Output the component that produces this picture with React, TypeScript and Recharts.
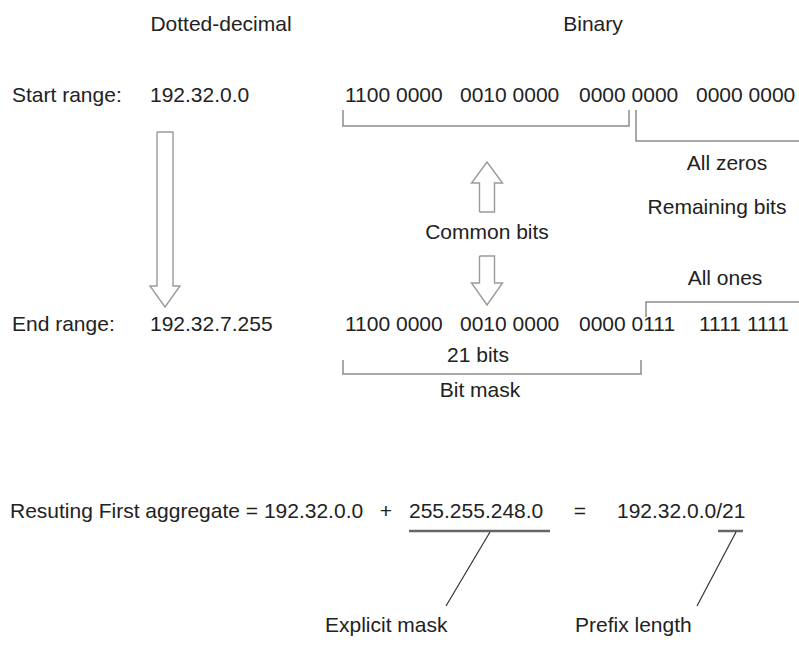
import { ScatterChart, Scatter, XAxis, YAxis } from 'recharts'

const W = 799
const H = 648

// text marks, positioned in the diagram's own coordinate space (x right, y down, baseline)
const headers = [
  { x: 221, y: 31, text: 'Dotted-decimal' },
  { x: 593, y: 31, text: 'Binary' },
]
const rowLabels = [
  { x: 12, y: 102, text: 'Start range:' },
  { x: 12, y: 331, text: 'End range:' },
]
const decimals = [
  { x: 150, y: 102, text: '192.32.0.0' },
  { x: 150, y: 331, text: '192.32.7.255' },
]
const startBits = [
  { x: 345, y: 102, text: '1100 0000' },
  { x: 460, y: 102, text: '0010 0000' },
  { x: 579, y: 102, text: '0000 0000' },
  { x: 696, y: 102, text: '0000 0000' },
]
const endBits = [
  { x: 345, y: 331, text: '1100 0000' },
  { x: 460, y: 331, text: '0010 0000' },
  { x: 579, y: 331, text: '0000 0111' },
  { x: 699, y: 331, text: '1111 1111' },
]
const notes = [
  { x: 727, y: 170, text: 'All zeros' },
  { x: 717, y: 214, text: 'Remaining bits' },
  { x: 487, y: 239, text: 'Common bits' },
  { x: 725, y: 285, text: 'All ones' },
  { x: 478, y: 362, text: '21 bits' },
  { x: 480, y: 397, text: 'Bit mask' },
]
const formula = [
  { x: 10, y: 518, text: 'Resuting First aggregate = 192.32.0.0' },
  { x: 409, y: 518, text: '255.255.248.0' },
  { x: 617, y: 518, text: '192.32.0.0/21' },
]
const operators = [
  { x: 386, y: 518, text: '+' },
  { x: 580, y: 518, text: '=' },
]
const captions = [
  { x: 325, y: 632, text: 'Explicit mask' },
  { x: 575, y: 632, text: 'Prefix length' },
]

// brackets and leader lines as polylines
const brackets = [
  [{ x: 343, y: 110 }, { x: 343, y: 126 }, { x: 629, y: 126 }, { x: 629, y: 110 }],
  [{ x: 636, y: 110 }, { x: 636, y: 141 }, { x: 799, y: 141 }],
  [{ x: 799, y: 302 }, { x: 646, y: 302 }, { x: 646, y: 317 }],
  [{ x: 343, y: 360 }, { x: 343, y: 374 }, { x: 641, y: 374 }, { x: 641, y: 360 }],
]
const underlines = [
  [{ x: 409, y: 531 }, { x: 550, y: 531 }],
  [{ x: 718, y: 531 }, { x: 743, y: 531 }],
]
const leaders = [
  [{ x: 490, y: 532 }, { x: 446, y: 606 }],
  [{ x: 736, y: 532 }, { x: 697, y: 606 }],
]

// block arrows: centre x, tail y, tip y, shaft width, head width, head length
const arrows = [
  { cx: 165, tail: 132, tip: 307, shaft: 16, head: 30, len: 21 },
  { cx: 487, tail: 212, tip: 162, shaft: 15, head: 31, len: 21 },
  { cx: 487, tail: 256, tip: 305, shaft: 15, head: 31, len: 22 },
]

function outline(a: (typeof arrows)[number]) {
  const dir = Math.sign(a.tip - a.tail)
  const base = a.tip - dir * a.len
  const s = a.shaft / 2
  const h = a.head / 2
  return [
    { x: a.cx - s, y: a.tail },
    { x: a.cx + s, y: a.tail },
    { x: a.cx + s, y: base },
    { x: a.cx + h, y: base },
    { x: a.cx, y: a.tip },
    { x: a.cx - h, y: base },
    { x: a.cx - s, y: base },
    { x: a.cx - s, y: a.tail },
  ]
}

const FONT = "'Liberation Sans', Arial, Helvetica, sans-serif"

const makeText = (anchor: 'start' | 'middle') => (props: any) => {
  const { cx, cy, payload } = props
  return (
    <text x={cx} y={cy} textAnchor={anchor} fontSize={21} fill="#222" fontFamily={FONT}>
      {payload.text}
    </text>
  )
}
const StartText = makeText('start')
const MiddleText = makeText('middle')
const Nothing = () => <g />

export default function App() {
  return (
    <div>
      <style>{'body{margin:0;background:#fff}'}</style>
      <ScatterChart width={W} height={H} margin={{ top: 0, right: 0, bottom: 0, left: 0 }}>
        <XAxis type="number" dataKey="x" domain={[0, W]} hide />
        <YAxis type="number" dataKey="y" domain={[0, H]} reversed hide />

        {arrows.map((a, i) => (
          <Scatter
            key={`arrow-${i}`}
            data={outline(a)}
            line={{ stroke: '#9a9a9a', strokeWidth: 1.4 }}
            shape={Nothing}
            isAnimationActive={false}
          />
        ))}
        {brackets.map((b, i) => (
          <Scatter
            key={`br-${i}`}
            data={b}
            line={{ stroke: '#8c8c8c', strokeWidth: 1.5 }}
            shape={Nothing}
            isAnimationActive={false}
          />
        ))}
        {underlines.map((u, i) => (
          <Scatter
            key={`ul-${i}`}
            data={u}
            line={{ stroke: '#666', strokeWidth: 2.5 }}
            shape={Nothing}
            isAnimationActive={false}
          />
        ))}
        {leaders.map((l, i) => (
          <Scatter
            key={`ld-${i}`}
            data={l}
            line={{ stroke: '#333', strokeWidth: 1.2 }}
            shape={Nothing}
            isAnimationActive={false}
          />
        ))}

        <Scatter data={headers} shape={MiddleText} isAnimationActive={false} />
        <Scatter data={rowLabels} shape={StartText} isAnimationActive={false} />
        <Scatter data={decimals} shape={StartText} isAnimationActive={false} />
        <Scatter data={startBits} shape={StartText} isAnimationActive={false} />
        <Scatter data={endBits} shape={StartText} isAnimationActive={false} />
        <Scatter data={notes} shape={MiddleText} isAnimationActive={false} />
        <Scatter data={formula} shape={StartText} isAnimationActive={false} />
        <Scatter data={operators} shape={MiddleText} isAnimationActive={false} />
        <Scatter data={captions} shape={StartText} isAnimationActive={false} />
      </ScatterChart>
    </div>
  )
}
